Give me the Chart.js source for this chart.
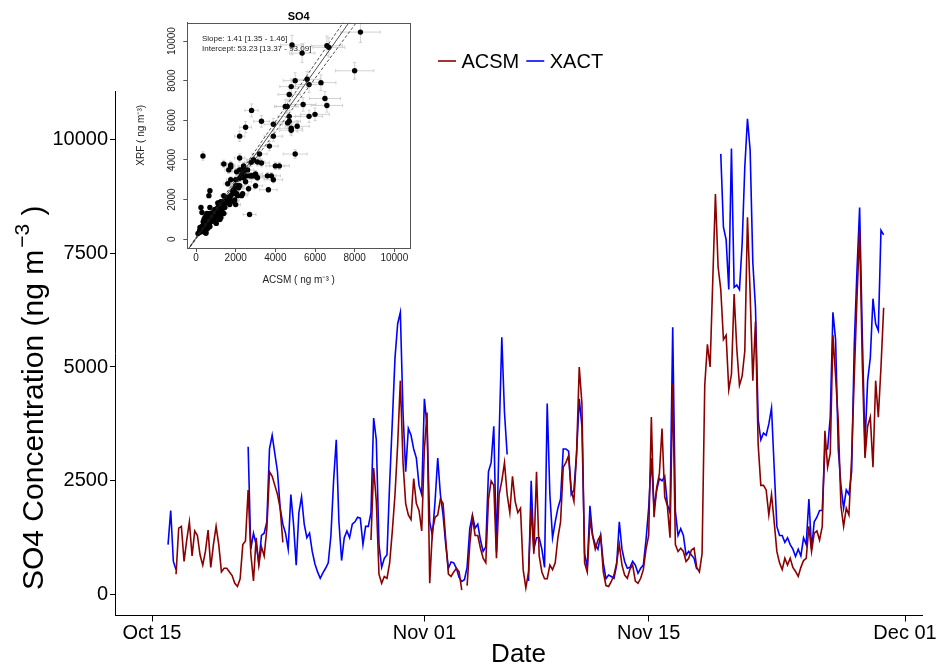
<!DOCTYPE html>
<html><head><meta charset="utf-8">
<script src="https://cdn.jsdelivr.net/npm/chart.js@4.4.0/dist/chart.umd.min.js"></script>
<style>
html,body{margin:0;padding:0;background:#fff;}
#wrap{position:relative;width:937px;height:668px;overflow:hidden;background:#fff;}
#main{position:absolute;left:0;top:0;}
#inset{position:absolute;left:130px;top:0;}
</style></head><body>
<div id="wrap"><canvas id="main" width="937" height="668"></canvas><canvas id="inset" width="300" height="300"></canvas></div>
<script>
const FONT = "'Liberation Sans', Arial, Helvetica, sans-serif";

// time base: first sample Oct 16 00:00 (days after Oct 15), 4-hour samples
const startDay = 1;
const stepHours = 4;
const dateTickDays = [0, 17, 31, 47];
const dateTickLabels = ['Oct 15', 'Nov 01', 'Nov 15', 'Dec 01'];
const concTicks = [0, 2500, 5000, 7500, 10000];
const seriesNames = ['ACSM', 'XACT'];
const yTitleParts = ['SO4 Concentration (ng m', '\u22123', ' )'];

const acsm = [
null,null,null,450,1460,1500,
730,1200,1600,850,1400,1300,
870,650,950,1420,600,1100,
1500,1100,500,580,580,500,
420,250,180,350,1100,1180,
2300,900,300,1250,650,1050,
850,1450,2700,2600,2400,2200,
1900,1150,null,null,null,null,
null,null,null,null,null,null,
null,null,null,null,null,null,
null,null,null,null,null,null,
null,null,null,null,null,null,
null,null,null,null,1200,2780,
2050,450,250,400,360,700,
1400,2200,3300,4700,2900,2000,
1750,1650,2550,2000,1850,1400,
3200,4000,250,1400,1700,1750,
2100,2000,1200,450,400,500,
580,500,100,null,200,1100,
1700,1300,1300,1020,800,700,
2100,2500,2400,800,2200,2500,
2900,2200,1800,2600,2050,1800,
1900,550,150,500,1900,900,
2700,850,500,350,350,650,
550,700,1250,1600,2800,2900,
3050,2300,2050,3100,5000,4200,
700,500,1650,1300,1000,1200,
1300,500,200,180,290,430,
700,1100,650,430,360,560,
650,300,250,360,550,1000,
1300,3900,1700,2350,2650,3650,
2150,1950,1250,4620,1100,950,
1020,950,730,800,980,1020,
600,500,900,4600,5500,5000,
6900,8800,7200,6700,5600,5700,
4500,4840,6600,5400,4600,4800,
5350,8290,6600,4700,6000,3300,
2400,2400,2300,1750,2200,1600,
950,700,550,800,650,800,
600,510,400,600,750,800,
1500,950,1350,1400,1200,1500,
3600,2800,3100,5700,4800,3800,
1950,1500,1900,1750,3000,4800,
6500,8000,5100,3000,3700,3900,
2800,4700,3900,5000,6300
];

const xact = [
1100,1850,730,550,null,null,
null,null,null,null,null,null,
null,null,null,null,null,null,
null,null,null,null,null,null,
null,null,null,null,null,null,
3250,1000,1350,1100,700,1300,
1350,1600,3200,3500,3100,2700,
1900,1550,1350,1000,2200,1550,
650,1800,2150,1550,1250,1350,
950,680,500,360,480,580,
700,1300,2500,3400,1600,750,
1250,1400,1250,1550,1600,1700,
1680,1100,1500,1500,1800,3880,
3400,1100,600,800,880,2450,
3800,5200,5950,6200,4000,2700,
3650,3500,3200,3000,2400,2200,
4300,3700,1600,1300,2050,3000,
2200,1750,1100,580,720,700,
580,380,290,330,600,1450,
1750,1460,1550,1200,950,1050,
2700,2900,3700,950,3500,5650,
4000,3080,null,null,null,null,
null,null,null,300,2500,1000,
1250,1250,1000,600,4200,2200,
1250,1600,1900,2100,3200,3200,
3150,2200,2300,3100,4300,3700,
900,600,1950,1300,1100,1000,
1300,700,350,430,400,360,
650,1600,1000,730,580,600,
730,650,470,580,650,1200,
1900,3000,1900,2300,2550,2500,
2600,1980,1800,5870,1830,1300,
1450,1300,870,950,870,800,
560,null,null,null,null,null,
null,null,null,9680,8070,7800,
6700,9800,6750,6800,6700,7700,
9390,10450,9760,7300,6300,3850,
3400,3550,3500,3750,4100,2800,
1500,1300,1300,1150,1250,1100,
1000,840,1000,850,1250,1100,
2100,1000,1600,1700,1850,1850,
3200,3200,3900,6200,5600,3200,
2400,1900,2300,2200,2700,5500,
7100,8500,5700,3300,4700,5200,
6500,5950,5800,8000,7900
];

// inset (scatter) definitions
const insetTicks = [0, 2000, 4000, 6000, 8000, 10000];
const regSlope = [1.41, 1.35, 1.46];
const regIntercept = [53.23, 13.37, 93.09];
const regText = ['Slope: 1.41 [1.35 - 1.46]', 'Intercept: 53.23 [13.37 - 93.09]'];
const insetTitle = 'SO4';
const errFracACSM = 0.12;
const errFracXRF = 0.05;

const toPoints = arr => arr.map((v, i) => ({x: startDay + i * stepHours / 24, y: v}));

const legendPlugin = {
  id: 'manualLegend',
  afterDraw(chart) {
    const ctx = chart.ctx;
    ctx.save();
    ctx.font = '20px ' + FONT;
    ctx.textBaseline = 'middle';
    const y = 61;
    let x = 438;
    chart.data.datasets.forEach(ds => {
      ctx.strokeStyle = ds.borderColor; ctx.lineWidth = 1.6;
      ctx.beginPath(); ctx.moveTo(x, y); ctx.lineTo(x + 18, y); ctx.stroke();
      ctx.fillStyle = '#000';
      ctx.fillText(ds.label, x + 23.5, y + 1);
      x += 23.5 + ctx.measureText(ds.label).width + 7;
    });
    ctx.restore();
  }
};

// y-axis title with a real superscript
const yTitlePlugin = {
  id: 'yTitle',
  afterDraw(chart) {
    const ctx = chart.ctx;
    const size = 30, supSize = 21;
    ctx.save();
    ctx.translate(33, 590);
    ctx.rotate(-Math.PI / 2);
    ctx.fillStyle = '#000';
    ctx.textBaseline = 'middle';
    ctx.textAlign = 'left';
    let x = 0;
    ctx.font = size + 'px ' + FONT;
    ctx.fillText(yTitleParts[0], x, 2);
    x += ctx.measureText(yTitleParts[0]).width + 2;
    ctx.font = supSize + 'px ' + FONT;
    ctx.fillText(yTitleParts[1], x, -10);
    x += ctx.measureText(yTitleParts[1]).width;
    ctx.font = size + 'px ' + FONT;
    ctx.fillText(yTitleParts[2], x, 2);
    ctx.restore();
  }
};

new Chart(document.getElementById('main'), {
  type: 'line',
  data: {datasets: [
    {label: seriesNames[0], data: toPoints(acsm), borderColor: '#8b0000', borderWidth: 1.6, pointRadius: 0, tension: 0, spanGaps: false},
    {label: seriesNames[1], data: toPoints(xact), borderColor: '#0000ff', borderWidth: 1.6, pointRadius: 0, tension: 0, spanGaps: false}
  ]},
  options: {
    responsive: false, animation: false, devicePixelRatio: 1,
    layout: {padding: {top: 91.3, right: 14, left: 0, bottom: 0}},
    plugins: {legend: {display: false}, tooltip: {enabled: false}},
    scales: {
      x: {
        type: 'linear', min: -2.31, max: 48.07,
        afterFit(s) { s.height = 52.5; },
        afterBuildTicks(s) { s.ticks = dateTickDays.map(v => ({value: v})); },
        ticks: {callback: v => { const k = dateTickDays.indexOf(v); return k >= 0 ? dateTickLabels[k] : ''; },
          font: {family: FONT, size: 20}, color: '#000', padding: 0, maxRotation: 0, autoSkip: false},
        grid: {drawOnChartArea: false, tickLength: 6, color: '#000'},
        border: {color: '#000', width: 1},
        title: {display: true, text: 'Date', font: {family: FONT, size: 26, lineHeight: 1}, color: '#000', padding: {top: 0, bottom: 0}}
      },
      y: {
        min: -457, max: 11054,
        afterFit(s) { s.width = 115; },
        afterBuildTicks(s) { s.ticks = concTicks.map(v => ({value: v})); },
        ticks: {font: {family: FONT, size: 20}, color: '#000', padding: 2, callback: v => String(v)},
        grid: {drawOnChartArea: false, tickLength: 5, color: '#000'},
        border: {color: '#000', width: 1},
        title: {display: false}
      }
    }
  },
  plugins: [legendPlugin, yTitlePlugin]
});

// ---------- inset ----------
const pairs = [];
acsm.forEach((a, i) => { if (a != null && xact[i] != null) pairs.push({x: a, y: xact[i]}); });
const xLim = [-440, 10790], yLim = [-440, 10923];
const regLine = k => [{x: xLim[0], y: regSlope[k] * xLim[0] + regIntercept[k]}, {x: xLim[1], y: regSlope[k] * xLim[1] + regIntercept[k]}];

const insetPlugin = {
  id: 'insetDecor',
  beforeDatasetsDraw(chart) {
    const ctx = chart.ctx, xs = chart.scales.x, ys = chart.scales.y, a = chart.chartArea;
    ctx.save();
    ctx.beginPath(); ctx.rect(a.left, a.top, a.right - a.left, a.bottom - a.top); ctx.clip();
    ctx.strokeStyle = '#c6c6c6'; ctx.lineWidth = 0.8;
    const cap = 1.6;
    pairs.forEach(p => {
      const px = xs.getPixelForValue(p.x), py = ys.getPixelForValue(p.y);
      const x0 = xs.getPixelForValue(p.x * (1 - errFracACSM)), x1 = xs.getPixelForValue(p.x * (1 + errFracACSM));
      const y0 = ys.getPixelForValue(p.y * (1 - errFracXRF)), y1 = ys.getPixelForValue(p.y * (1 + errFracXRF));
      ctx.beginPath();
      ctx.moveTo(x0, py); ctx.lineTo(x1, py);
      ctx.moveTo(x0, py - cap); ctx.lineTo(x0, py + cap);
      ctx.moveTo(x1, py - cap); ctx.lineTo(x1, py + cap);
      ctx.moveTo(px, y0); ctx.lineTo(px, y1);
      ctx.moveTo(px - cap, y0); ctx.lineTo(px + cap, y0);
      ctx.moveTo(px - cap, y1); ctx.lineTo(px + cap, y1);
      ctx.stroke();
    });
    ctx.restore();
  },
  afterDraw(chart) {
    const ctx = chart.ctx, a = chart.chartArea;
    ctx.save();
    ctx.strokeStyle = '#555'; ctx.lineWidth = 1;
    ctx.strokeRect(Math.round(a.left) + 0.5, Math.round(a.top) + 0.5, Math.round(a.right - a.left), Math.round(a.bottom - a.top));
    ctx.fillStyle = '#000';
    ctx.font = 'bold 11px ' + FONT;
    ctx.textAlign = 'center'; ctx.textBaseline = 'middle';
    ctx.fillText(insetTitle, (a.left + a.right) / 2, 16.7);
    ctx.font = '8px ' + FONT;
    ctx.textAlign = 'left';
    ctx.fillStyle = '#222';
    ctx.fillText(regText[0], 72, 39);
    ctx.fillText(regText[1], 72, 49);
    ctx.restore();
  }
};

new Chart(document.getElementById('inset'), {
  type: 'scatter',
  data: {datasets: [
    {type: 'line', data: regLine(0), borderColor: '#222', borderWidth: 0.8, pointRadius: 0, order: 0},
    {type: 'line', data: regLine(1), borderColor: '#222', borderWidth: 0.8, borderDash: [3, 2], pointRadius: 0, order: 0},
    {type: 'line', data: regLine(2), borderColor: '#222', borderWidth: 0.8, borderDash: [3, 2], pointRadius: 0, order: 0},
    {label: insetTitle, data: pairs, backgroundColor: '#000', borderColor: '#000', pointRadius: 2.7, pointBorderWidth: 0, order: 1}
  ]},
  options: {
    responsive: false, animation: false, devicePixelRatio: 1,
    layout: {padding: {top: 22.7, right: 20, left: 0, bottom: 0}},
    plugins: {legend: {display: false}, tooltip: {enabled: false}},
    scales: {
      x: {
        type: 'linear', min: xLim[0], max: xLim[1],
        afterFit(s) { s.height = 52; },
        afterBuildTicks(s) { s.ticks = insetTicks.map(v => ({value: v})); },
        ticks: {font: {family: FONT, size: 10}, color: '#222', padding: 0, maxRotation: 0, autoSkip: false, callback: v => String(v)},
        grid: {drawOnChartArea: false, tickLength: 4, color: '#555'},
        border: {color: '#555', width: 1},
        title: {display: true, text: 'ACSM ( ng m\u207B\u00B3 )', font: {family: FONT, size: 10, lineHeight: 1}, color: '#222', padding: {top: 0, bottom: 15}}
      },
      y: {
        type: 'linear', min: yLim[0], max: yLim[1],
        afterFit(s) { s.width = 57.3; },
        afterBuildTicks(s) { s.ticks = insetTicks.map(v => ({value: v})); },
        ticks: {font: {family: FONT, size: 10}, color: '#222', padding: -3, minRotation: 90, maxRotation: 90, crossAlign: 'center', autoSkip: false, callback: v => String(v)},
        grid: {drawOnChartArea: false, tickLength: 4, color: '#555'},
        border: {color: '#555', width: 1},
        title: {display: true, text: 'XRF ( ng m\u207B\u00B3)', font: {family: FONT, size: 10, lineHeight: 1}, color: '#222', padding: {top: 6, bottom: 0}}
      }
    }
  },
  plugins: [insetPlugin]
});
</script>
</body></html>
